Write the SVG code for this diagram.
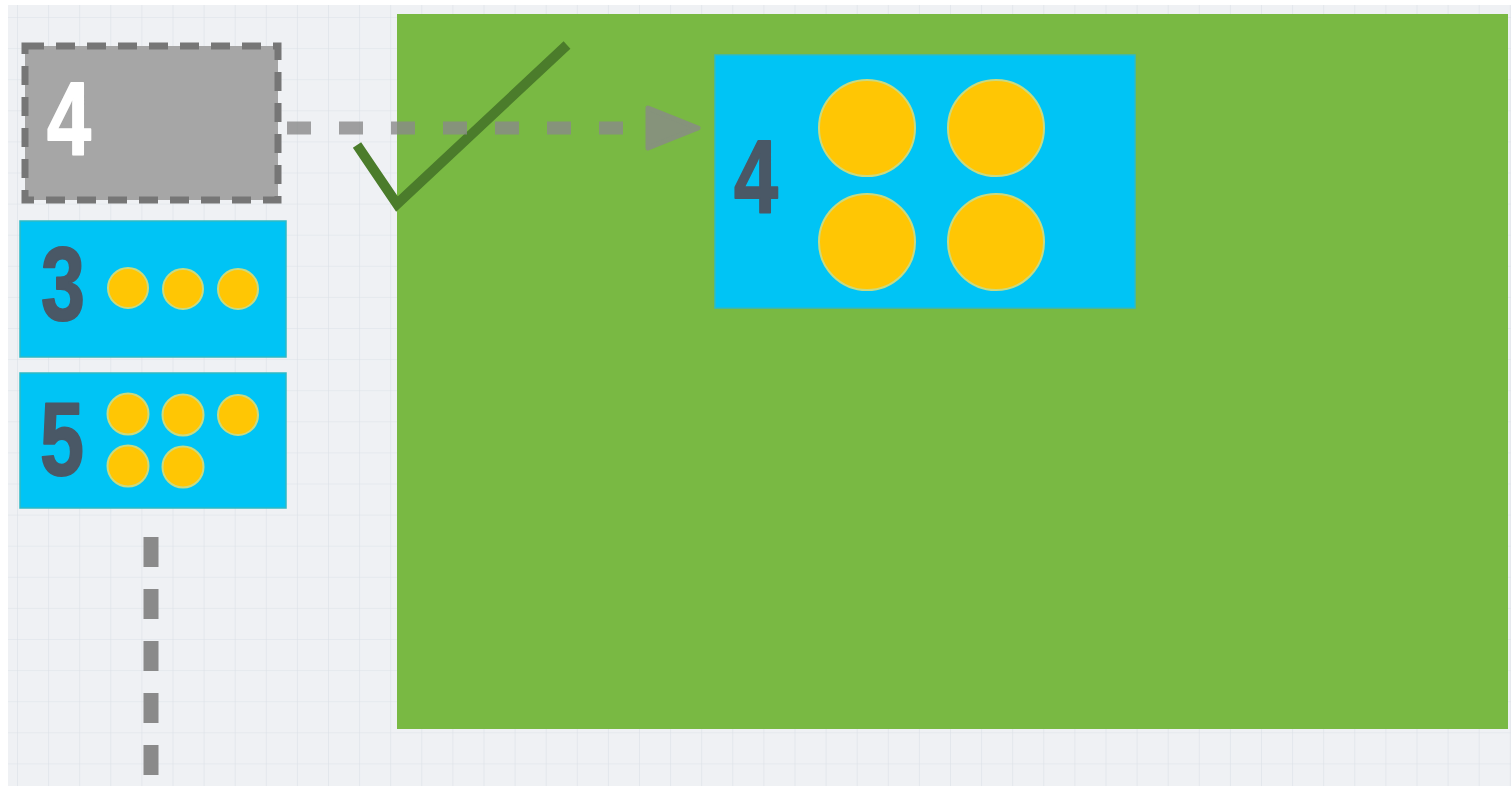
<svg xmlns="http://www.w3.org/2000/svg" width="1511" height="786" viewBox="0 0 1511 786">
  <defs>
    <pattern id="grid" x="17" y="17" width="31.1" height="31.1" patternUnits="userSpaceOnUse">
      <path d="M0,0 H31.1 M0,0 V31.1" fill="none" stroke="#dbe1e7" stroke-width="1.2"/>
    </pattern>
    <marker id="head" markerUnits="userSpaceOnUse" viewBox="-5 -27 62 54" markerWidth="62" markerHeight="54" refX="0" refY="0" orient="auto">
      <path d="M0,-20 L50,0 L0,20 Z" fill="#8a8a8a" stroke="#8a8a8a" stroke-width="5" stroke-linejoin="round"/>
    </marker>
    <style>
      .blue { fill: #00c4f5; stroke: #2fb9c4; stroke-width: 1.5; }
      .dot { fill: #ffc604; stroke: #c9da80; stroke-width: 2; }
      .num { font-family: "Liberation Sans", "DejaVu Sans", sans-serif; font-weight: bold; font-size: 104px; text-anchor: middle; stroke-linejoin: round; stroke-linecap: round; stroke-width: 2; }
      .dark { fill: #4a5866; stroke: #4a5866; }
      .white { fill: #ffffff; stroke: #ffffff; }
      .conn { fill: none; stroke: #8a8a8a; }
    </style>
  </defs>

  <rect x="0" y="0" width="1511" height="786" fill="#ffffff"/>
  <rect x="8" y="5" width="1503" height="781" fill="#eff1f4"/>
  <rect x="8" y="5" width="1503" height="781" fill="url(#grid)"/>

  <g id="green-area">
    <rect x="397" y="14" width="1111" height="715" fill="#79b943"/>
  </g>

  <g id="node-grey-4">
    <rect x="25" y="46" width="253" height="154" fill="#a6a6a6" stroke="#767676" stroke-width="7" stroke-dasharray="19 12"/>
    <text class="num white" transform="translate(69 155) scale(0.76 1)">4</text>
  </g>

  <g id="node-3">
    <rect class="blue" x="20" y="221" width="266" height="136"/>
    <text class="num dark" transform="translate(63 320) scale(0.76 1)">3</text>
    <circle class="dot" cx="128" cy="288" r="20"/>
    <circle class="dot" cx="183" cy="289" r="20"/>
    <circle class="dot" cx="238" cy="289" r="20"/>
  </g>

  <g id="node-5">
    <rect class="blue" x="20" y="373" width="266" height="135"/>
    <text class="num dark" transform="translate(62 475) scale(0.76 1)">5</text>
    <circle class="dot" cx="128" cy="414" r="20.5"/>
    <circle class="dot" cx="183" cy="415" r="20.5"/>
    <circle class="dot" cx="238" cy="415" r="20"/>
    <circle class="dot" cx="128" cy="466" r="20.5"/>
    <circle class="dot" cx="183" cy="467" r="20.5"/>
  </g>

  <g id="node-blue-4">
    <rect class="blue" x="715" y="55" width="420" height="253"/>
    <text class="num dark" transform="translate(756 213) scale(0.76 1)">4</text>
    <circle class="dot" cx="867" cy="128" r="48"/>
    <circle class="dot" cx="996" cy="128" r="48"/>
    <circle class="dot" cx="867" cy="242" r="48"/>
    <circle class="dot" cx="996" cy="242" r="48"/>
  </g>

  <g id="checkmark">
    <polyline points="357,145 397,204 567,45" fill="none" stroke="#4b7c2b" stroke-width="10" stroke-linejoin="miter"/>
  </g>

  <g id="connectors">
    <line class="conn" x1="287" y1="128" x2="648" y2="128" stroke-width="13" stroke-dasharray="24 28" marker-end="url(#head)" opacity="0.8"/>
    <line class="conn" x1="151" y1="537" x2="151" y2="786" stroke-width="15" stroke-dasharray="30 22"/>
  </g>
</svg>
